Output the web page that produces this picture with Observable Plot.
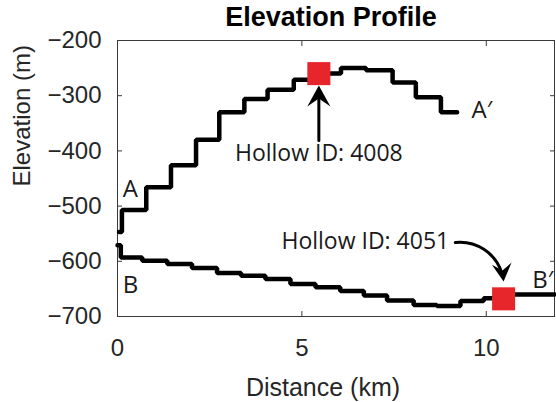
<!DOCTYPE html>
<html>
<head>
<meta charset="utf-8">
<script src="https://cdn.jsdelivr.net/npm/d3@7"></script>
<script src="https://cdn.jsdelivr.net/npm/@observablehq/plot@0.6"></script>
<style>
  html, body { margin: 0; padding: 0; background: #fff; }
  svg { display: block; }
</style>
</head>
<body>
<div id="chart"></div>
<script>
// Profile A–A′: distance along the track (km) and elevation (m)
const distA = [0.04, 0.12, 0.78, 1.45, 2.13, 2.76, 3.44, 4.07, 4.78, 5.46, 6.06, 6.74, 7.46, 8.09, 8.77, 9.21];
const elevA = [-547, -507, -466, -426, -380, -330, -306, -289, -271, -260, -250, -254, -276, -303, -330, -330];

// Profile B–B′
const distB = [0, 0.09, 0.67, 1.35, 2.02, 2.70, 3.35, 4.01, 4.69, 5.37, 6.04, 6.68, 7.31, 8.03, 8.66, 9.30, 9.93, 10.60, 11.85];
const elevB = [-571, -593, -599, -605, -612, -621, -626, -632, -641, -647, -654, -662, -671, -679, -681, -672, -667, -660, -660];

// Hollows picked out along the two profiles
const hollowLabel = ["Hollow ID: 4008", "Hollow ID: 4051"];
const hollowDist = [5.46, 10.47];
const hollowElev = [-260, -668];

// Callout text anchors and the arrows that point from them to the hollows
const calloutDist = [5.46, 6.72];
const calloutElev = [-405, -565];
const arrowFromDist = [5.46, 9.16];
const arrowFromElev = [-381, -566];
const arrowToDist = [5.46, 10.47];
const arrowToElev = [-281.5, -636.6];
const arrowBend = [0, 45];
const arrowHeadAngle = [0, 174];
const arrowHeadSize = [21, 18];

// Profile end labels
const endLabel = ["A", "A\u2032", "B", "B\u2032"];
const endDist = [0.35, 9.88, 0.35, 11.53];
const endElev = [-469, -326, -644, -634];

// Axis ticks
const xTicks = [0, 5, 10];
const yTicks = [-700, -600, -500, -400, -300, -200];

const profileA = distA.map((d, i) => ({distance: d, elevation: elevA[i]}));
const profileB = distB.map((d, i) => ({distance: d, elevation: elevB[i]}));
const hollows = hollowLabel.map((label, i) => ({
  label,
  distance: hollowDist[i],
  elevation: hollowElev[i],
  textDistance: calloutDist[i],
  textElevation: calloutElev[i],
  x1: arrowFromDist[i], y1: arrowFromElev[i],
  x2: arrowToDist[i], y2: arrowToElev[i],
  bend: arrowBend[i],
  angle: arrowHeadAngle[i],
  size: arrowHeadSize[i]
}));
const ends = endLabel.map((label, i) => ({label, distance: endDist[i], elevation: endElev[i]}));

// Filled, swept-back arrowhead with its tip at the origin, pointing up
const stealth = {
  draw(context, size) {
    const l = Math.sqrt(size / Math.PI);
    const w = 0.55 * l;
    context.moveTo(0, 0);
    context.lineTo(w, l);
    context.lineTo(0, 0.62 * l);
    context.lineTo(-w, l);
    context.closePath();
  }
};

const ink = "#262626";
const axisInk = "#3a3a3a";
const annotationFont = "'Open Sans', 'Noto Sans', sans-serif";
const noText = () => "";

// One shaft and one head per callout (bend, size and angle are per-arrow constants)
const calloutArrows = hollows.flatMap((h) => [
  Plot.arrow([h], {x1: "x1", y1: "y1", x2: "x2", y2: "y2", bend: h.bend, headLength: 0, insetEnd: 9, stroke: "#000", strokeWidth: 3}),
  Plot.dot([h], {x: "x2", y: "y2", symbol: stealth, r: h.size, rotate: h.angle, fill: "#000", stroke: null})
]);

const chart = Plot.plot({
  width: 556,
  height: 402,
  marginLeft: 117,
  marginRight: 2,
  marginTop: 40,
  marginBottom: 86,
  style: {fontFamily: "'Liberation Sans', Arial, sans-serif", background: "#fff", color: ink},
  x: {domain: [0, 11.85]},
  y: {domain: [-700, -200]},
  marks: [
    Plot.frame({stroke: axisInk, strokeWidth: 1}),
    // tick marks pointing into the plot area on all four sides
    Plot.axisX(xTicks, {anchor: "bottom", tickSize: 5, dy: -5, tickFormat: noText, stroke: axisInk, label: null}),
    Plot.axisX(xTicks, {anchor: "top", tickSize: 5, dy: 5, tickFormat: noText, stroke: axisInk, label: null}),
    Plot.axisY(yTicks, {anchor: "left", tickSize: 5, dx: 5, tickFormat: noText, stroke: axisInk, label: null}),
    Plot.axisY(yTicks, {anchor: "right", tickSize: 5, dx: -5, tickFormat: noText, stroke: axisInk, label: null}),
    // tick labels
    Plot.axisX(xTicks, {anchor: "bottom", tickSize: 0, tickPadding: 22, fontSize: 24, fill: ink, label: null}),
    Plot.axisY(yTicks, {anchor: "left", tickSize: 0, tickPadding: 16, fontSize: 24, fill: ink, label: null}),
    // axis titles and chart title
    Plot.text(["Distance (km)"], {frameAnchor: "bottom", dx: -13, dy: 71.5, fontSize: 25, fill: ink, lineAnchor: "middle"}),
    Plot.text(["Elevation (m)"], {frameAnchor: "left", rotate: -90, dx: -95, dy: 8, fontSize: 24, fill: ink, lineAnchor: "middle"}),
    Plot.text(["Elevation Profile"], {frameAnchor: "top", dx: -5, dy: -23, fontSize: 27, fontWeight: "bold", fill: "#000", lineAnchor: "middle"}),
    // the two elevation profiles
    Plot.line(profileA, {x: "distance", y: "elevation", curve: "step-after", stroke: "#000", strokeWidth: 4.5, strokeLinejoin: "miter"}),
    Plot.line(profileB, {x: "distance", y: "elevation", curve: "step-after", stroke: "#000", strokeWidth: 4.5, strokeLinejoin: "miter"}),
    // hollow markers
    Plot.dot(hollows, {x: "distance", y: "elevation", symbol: "square", r: 13, fill: "#e6262b", stroke: null}),
    // callout arrows
    ...calloutArrows,
    // callout text
    Plot.text(hollows, {x: "textDistance", y: "textElevation", text: "label", fontSize: 23, fontFamily: annotationFont, fill: "#1a1a1a", lineAnchor: "middle"}),
    // profile end labels
    Plot.text(ends, {x: "distance", y: "elevation", text: "label", fontSize: 24, fontFamily: annotationFont, fill: "#1a1a1a", lineAnchor: "middle"})
  ]
});

document.getElementById("chart").appendChild(chart);
</script>
</body>
</html>
